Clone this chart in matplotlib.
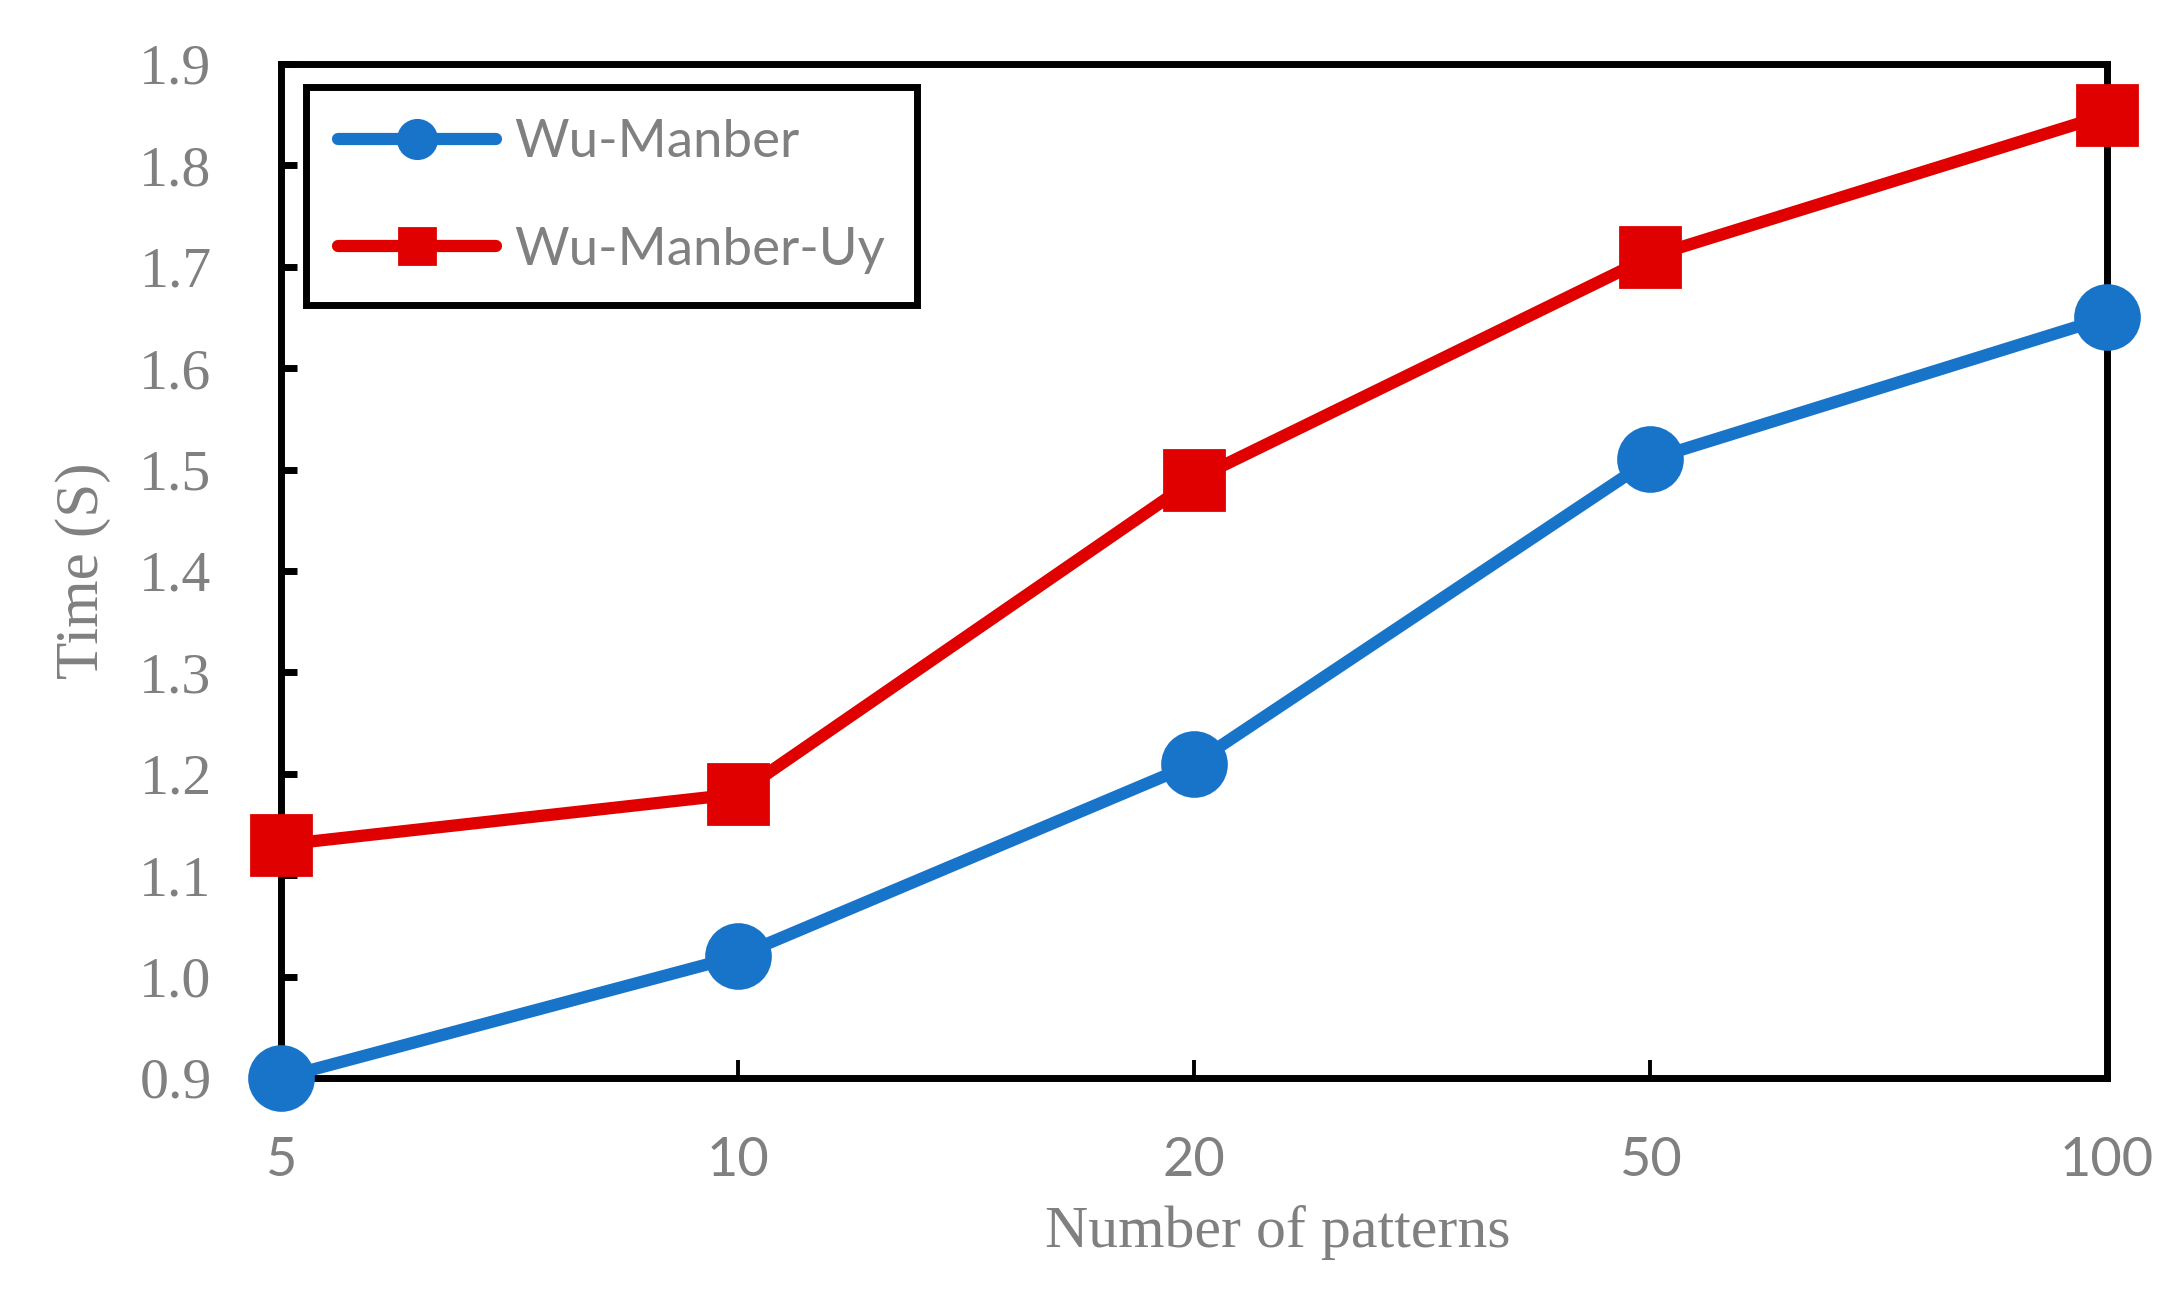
import matplotlib
matplotlib.use("Agg")
import matplotlib.pyplot as plt
import numpy as np

# data
patterns = ["5", "10", "20", "50", "100"]
wu_manber = [0.90, 1.02, 1.21, 1.51, 1.65]
wu_manber_uy = [1.13, 1.18, 1.49, 1.71, 1.85]
y_ticks = [0.9, 1.0, 1.1, 1.2, 1.3, 1.4, 1.5, 1.6, 1.7, 1.8, 1.9]

blue = "#1874C8"
red = "#E00000"
grey = "#808080"

fig = plt.figure(figsize=(10.91, 6.49), dpi=200)
ax = fig.add_axes([0.1288, 0.1695, 0.8368, 0.7812])

x = np.arange(len(patterns))
ax.plot(x, wu_manber, color=blue, lw=4.4, marker="o", ms=23,
        solid_capstyle="round", label="Wu-Manber", clip_on=False, zorder=3)
ax.plot(x, wu_manber_uy, color=red, lw=4.4, marker="s", ms=21.5,
        solid_capstyle="round", label="Wu-Manber-Uy", clip_on=False, zorder=3)

ax.set_xlim(0, len(patterns) - 1)
ax.set_ylim(0.9, 1.9)
ax.set_xticks(x)
ax.set_xticklabels(patterns)
ax.set_yticks(y_ticks)
ax.set_yticklabels(["%.1f" % v for v in y_ticks])

for s in ["top", "bottom", "left", "right"]:
    ax.spines[s].set_linewidth(2.5)
    ax.spines[s].set_color("black")

ax.tick_params(axis="y", direction="in", length=5.8, width=2.5, pad=25,
               labelsize=20.8, labelcolor=grey, left=True, right=False)
ax.tick_params(axis="x", direction="in", length=6.4, width=1.4, pad=21,
               labelsize=19.5, labelcolor=grey, bottom=True, top=False)
for lab in ax.get_yticklabels():
    lab.set_family("Liberation Serif")
for lab in ax.get_xticklabels():
    lab.set_family("Lato")

ax.set_xlabel("Number of patterns", family="Liberation Serif", fontsize=21.5,
              color=grey, labelpad=6)
ax.xaxis.set_label_coords(0.546, -0.125)
ax.xaxis.label.set_va("top")
ax.set_ylabel("Time (S)", family="Liberation Serif", fontsize=22,
              color=grey, labelpad=10)

leg = ax.legend(loc="upper left", bbox_to_anchor=(0.0136, 0.977),
                borderaxespad=0, fancybox=False, edgecolor="black",
                framealpha=1, markerscale=0.6, handlelength=3.0,
                labelspacing=1.15, handletextpad=0.35, borderpad=0.6,
                prop={"family": "Lato", "size": 19})
leg.get_frame().set_linewidth(2.5)
for t in leg.get_texts():
    t.set_color(grey)

fig.savefig("out.png", dpi=200)
